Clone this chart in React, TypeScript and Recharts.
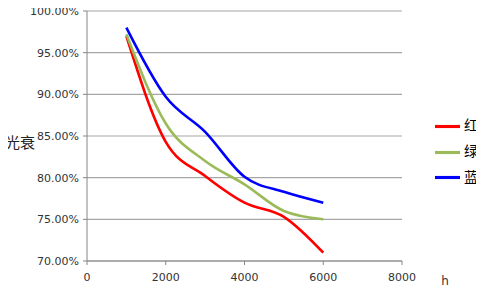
import React from "react";
import { CartesianGrid, Legend, Line, LineChart, XAxis, YAxis } from "recharts";

const hours = [1000, 2000, 3000, 4000, 5000, 6000];
const red = [97.0, 84.3, 80.2, 77.0, 75.3, 71.0];
const green = [97.2, 86.5, 82.0, 79.2, 76.0, 75.0];
const blue = [98.0, 89.7, 85.5, 80.1, 78.3, 77.0];
const xTicks = [0, 2000, 4000, 6000, 8000];
const yTicks = [70, 75, 80, 85, 90, 95, 100];

const data = hours.map((h, i) => ({ h, red: red[i], green: green[i], blue: blue[i] }));

const tickStyle = { fontSize: 11, fill: "#333", fontFamily: "DejaVu Sans" };

const App = () => {
  return (
    <div style={{ margin: -8 }}>
      <LineChart
        width={484}
        height={300}
        data={data}
        margin={{ top: 11, right: 32, bottom: 0, left: 0 }}
      >
        <CartesianGrid vertical={false} stroke="#a6a6a6" strokeWidth={1.2} />
        <XAxis
          dataKey="h"
          type="number"
          domain={[0, 8000]}
          ticks={xTicks}
          tick={tickStyle}
          tickSize={4}
          tickMargin={8}
          stroke="#868686"
          height={39}
          label={(props: any) => {
            const vb = props.viewBox;
            return (
              <text x={vb.x + vb.width + 43} y={vb.y + 24} fontSize={12} fill="#333" fontFamily="DejaVu Sans" textAnchor="middle">
                h
              </text>
            );
          }}
        />
        <YAxis
          domain={[70, 100]}
          ticks={yTicks}
          tick={tickStyle}
          tickSize={4}
          tickMargin={4}
          stroke="#868686"
          width={87}
          tickFormatter={(v: number) => v.toFixed(2) + "%"}
          label={(props: any) => {
            const vb = props.viewBox;
            return (
              <text x={5} y={vb.y + vb.height / 2 + 12} fontSize={15} fill="#222" fontFamily="Noto Sans CJK SC" textAnchor="start">
                光衰
              </text>
            );
          }}
        />
        <Legend
          layout="vertical"
          align="right"
          verticalAlign="top"
          iconType="plainline"
          iconSize={25}
          formatter={(value: string) => <span style={{ color: "#000", fontSize: 14, fontFamily: "Noto Sans CJK SC" }}>{value}</span>}
          wrapperStyle={{ left: 435, top: 113, width: 50, lineHeight: "23px" }}
        />
        <Line dataKey="red" name="红" type="monotone" stroke="#ff0000" strokeWidth={2.6} dot={false} isAnimationActive={false} />
        <Line dataKey="green" name="绿" type="monotone" stroke="#9bbb59" strokeWidth={2.6} dot={false} isAnimationActive={false} />
        <Line dataKey="blue" name="蓝" type="monotone" stroke="#0000ff" strokeWidth={2.6} dot={false} isAnimationActive={false} />
      </LineChart>
    </div>
  );
};

export default App;
